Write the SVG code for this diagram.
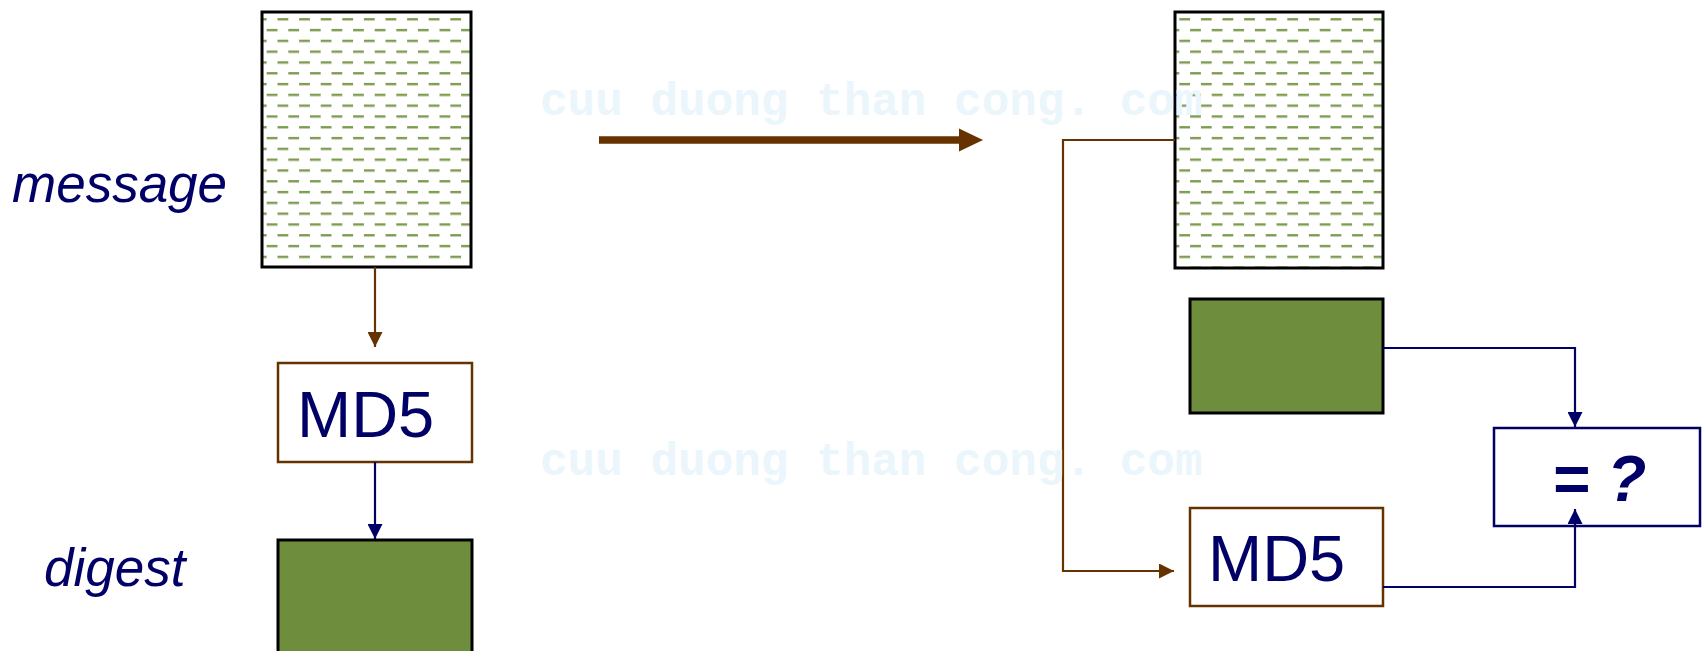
<svg xmlns="http://www.w3.org/2000/svg" width="1708" height="651" viewBox="0 0 1708 651">
  <style>
    .lbl { font-family: "Liberation Sans", Arial, sans-serif; fill: #000066; }
    .it { font-style: italic; font-size: 53px; }
    .md5 { font-size: 65px; }
    .eq { font-size: 64px; font-weight: bold; font-style: italic; }
    .wm { font-family: "Liberation Mono", "Courier New", monospace; font-size: 46px; font-weight: bold; fill: #ebf6fc; }
    .msg { stroke: #000000; stroke-width: 3; }
    .dig { fill: #6e8e3e; stroke: #000000; stroke-width: 3; }
    .hbox { fill: #ffffff; stroke: #663300; stroke-width: 2.5; }
    .cbox { fill: #ffffff; stroke: #000066; stroke-width: 2.5; }
    .brown { fill: none; stroke: #663300; stroke-width: 2.2; }
    .navy { fill: none; stroke: #000066; stroke-width: 2.2; }
  </style>
  <defs>
    <pattern id="dashL" patternUnits="userSpaceOnUse" x="266.7" y="7.3" width="21.6" height="21.6">
      <rect x="0" y="0" width="10.8" height="2.4" fill="#7d9c52"/>
      <rect x="10.8" y="10.8" width="10.8" height="2.4" fill="#7d9c52"/>
    </pattern>
    <pattern id="dashR" patternUnits="userSpaceOnUse" x="1179.3" y="18.1" width="21.6" height="21.6">
      <rect x="0" y="0" width="10.8" height="2.4" fill="#7d9c52"/>
      <rect x="10.8" y="10.8" width="10.8" height="2.4" fill="#7d9c52"/>
    </pattern>
    <marker id="ahBrown" markerUnits="userSpaceOnUse" viewBox="0 0 15 15" refX="15" refY="7.5" markerWidth="15" markerHeight="15" orient="auto">
      <path d="M0,0 L15,7.5 L0,15 Z" fill="#663300"/>
    </marker>
    <marker id="ahNavy" markerUnits="userSpaceOnUse" viewBox="0 0 15 15" refX="15" refY="7.5" markerWidth="15" markerHeight="15" orient="auto">
      <path d="M0,0 L15,7.5 L0,15 Z" fill="#000066"/>
    </marker>
  </defs>

  <rect width="1708" height="651" fill="#ffffff"/>

  <g id="label-message">
    <text class="lbl it" x="12" y="202">message</text>
  </g>
  <g id="label-digest">
    <text class="lbl it" x="44" y="586">digest</text>
  </g>

  <g id="message-left">
    <rect x="262" y="12" width="209" height="255" fill="#ffffff"/>
    <rect class="msg" x="262" y="12" width="209" height="255" fill="url(#dashL)"/>
  </g>
  <g id="md5-left">
    <rect class="hbox" x="278" y="363" width="194" height="99"/>
    <text class="lbl md5" x="297" y="437">MD5</text>
  </g>
  <g id="digest-left">
    <rect class="dig" x="278" y="540" width="194" height="125"/>
  </g>

  <g id="message-right">
    <rect x="1175" y="12" width="208" height="256" fill="#ffffff"/>
    <rect class="msg" x="1175" y="12" width="208" height="256" fill="url(#dashR)"/>
  </g>
  <g id="digest-right">
    <rect class="dig" x="1190" y="299" width="193" height="114"/>
  </g>
  <g id="md5-right">
    <rect class="hbox" x="1190" y="508" width="193" height="98"/>
    <text class="lbl md5" x="1208" y="581">MD5</text>
  </g>
  <g id="compare">
    <rect class="cbox" x="1494" y="428" width="206" height="98"/>
    <text class="lbl eq" x="1552" y="501">= ?</text>
  </g>

  <g id="connectors">
    <line class="brown" x1="375" y1="267" x2="375" y2="347" marker-end="url(#ahBrown)"/>
    <line class="navy" x1="375" y1="462" x2="375" y2="539" marker-end="url(#ahNavy)"/>
    <line x1="599" y1="140" x2="962" y2="140" stroke="#663300" stroke-width="7.5"/>
    <path d="M959,128.5 L983,140 L959,151.5 Z" fill="#663300"/>
    <polyline class="brown" points="1175,140 1063,140 1063,571 1174,571" marker-end="url(#ahBrown)"/>
    <polyline class="navy" points="1383,348 1575,348 1575,427" marker-end="url(#ahNavy)"/>
    <polyline class="navy" points="1383,587 1575,587 1575,509" marker-end="url(#ahNavy)"/>
  </g>

  <g id="watermark">
    <text class="wm" x="540" y="115">cuu duong than cong. com</text>
    <text class="wm" x="540" y="475">cuu duong than cong. com</text>
  </g>
</svg>
